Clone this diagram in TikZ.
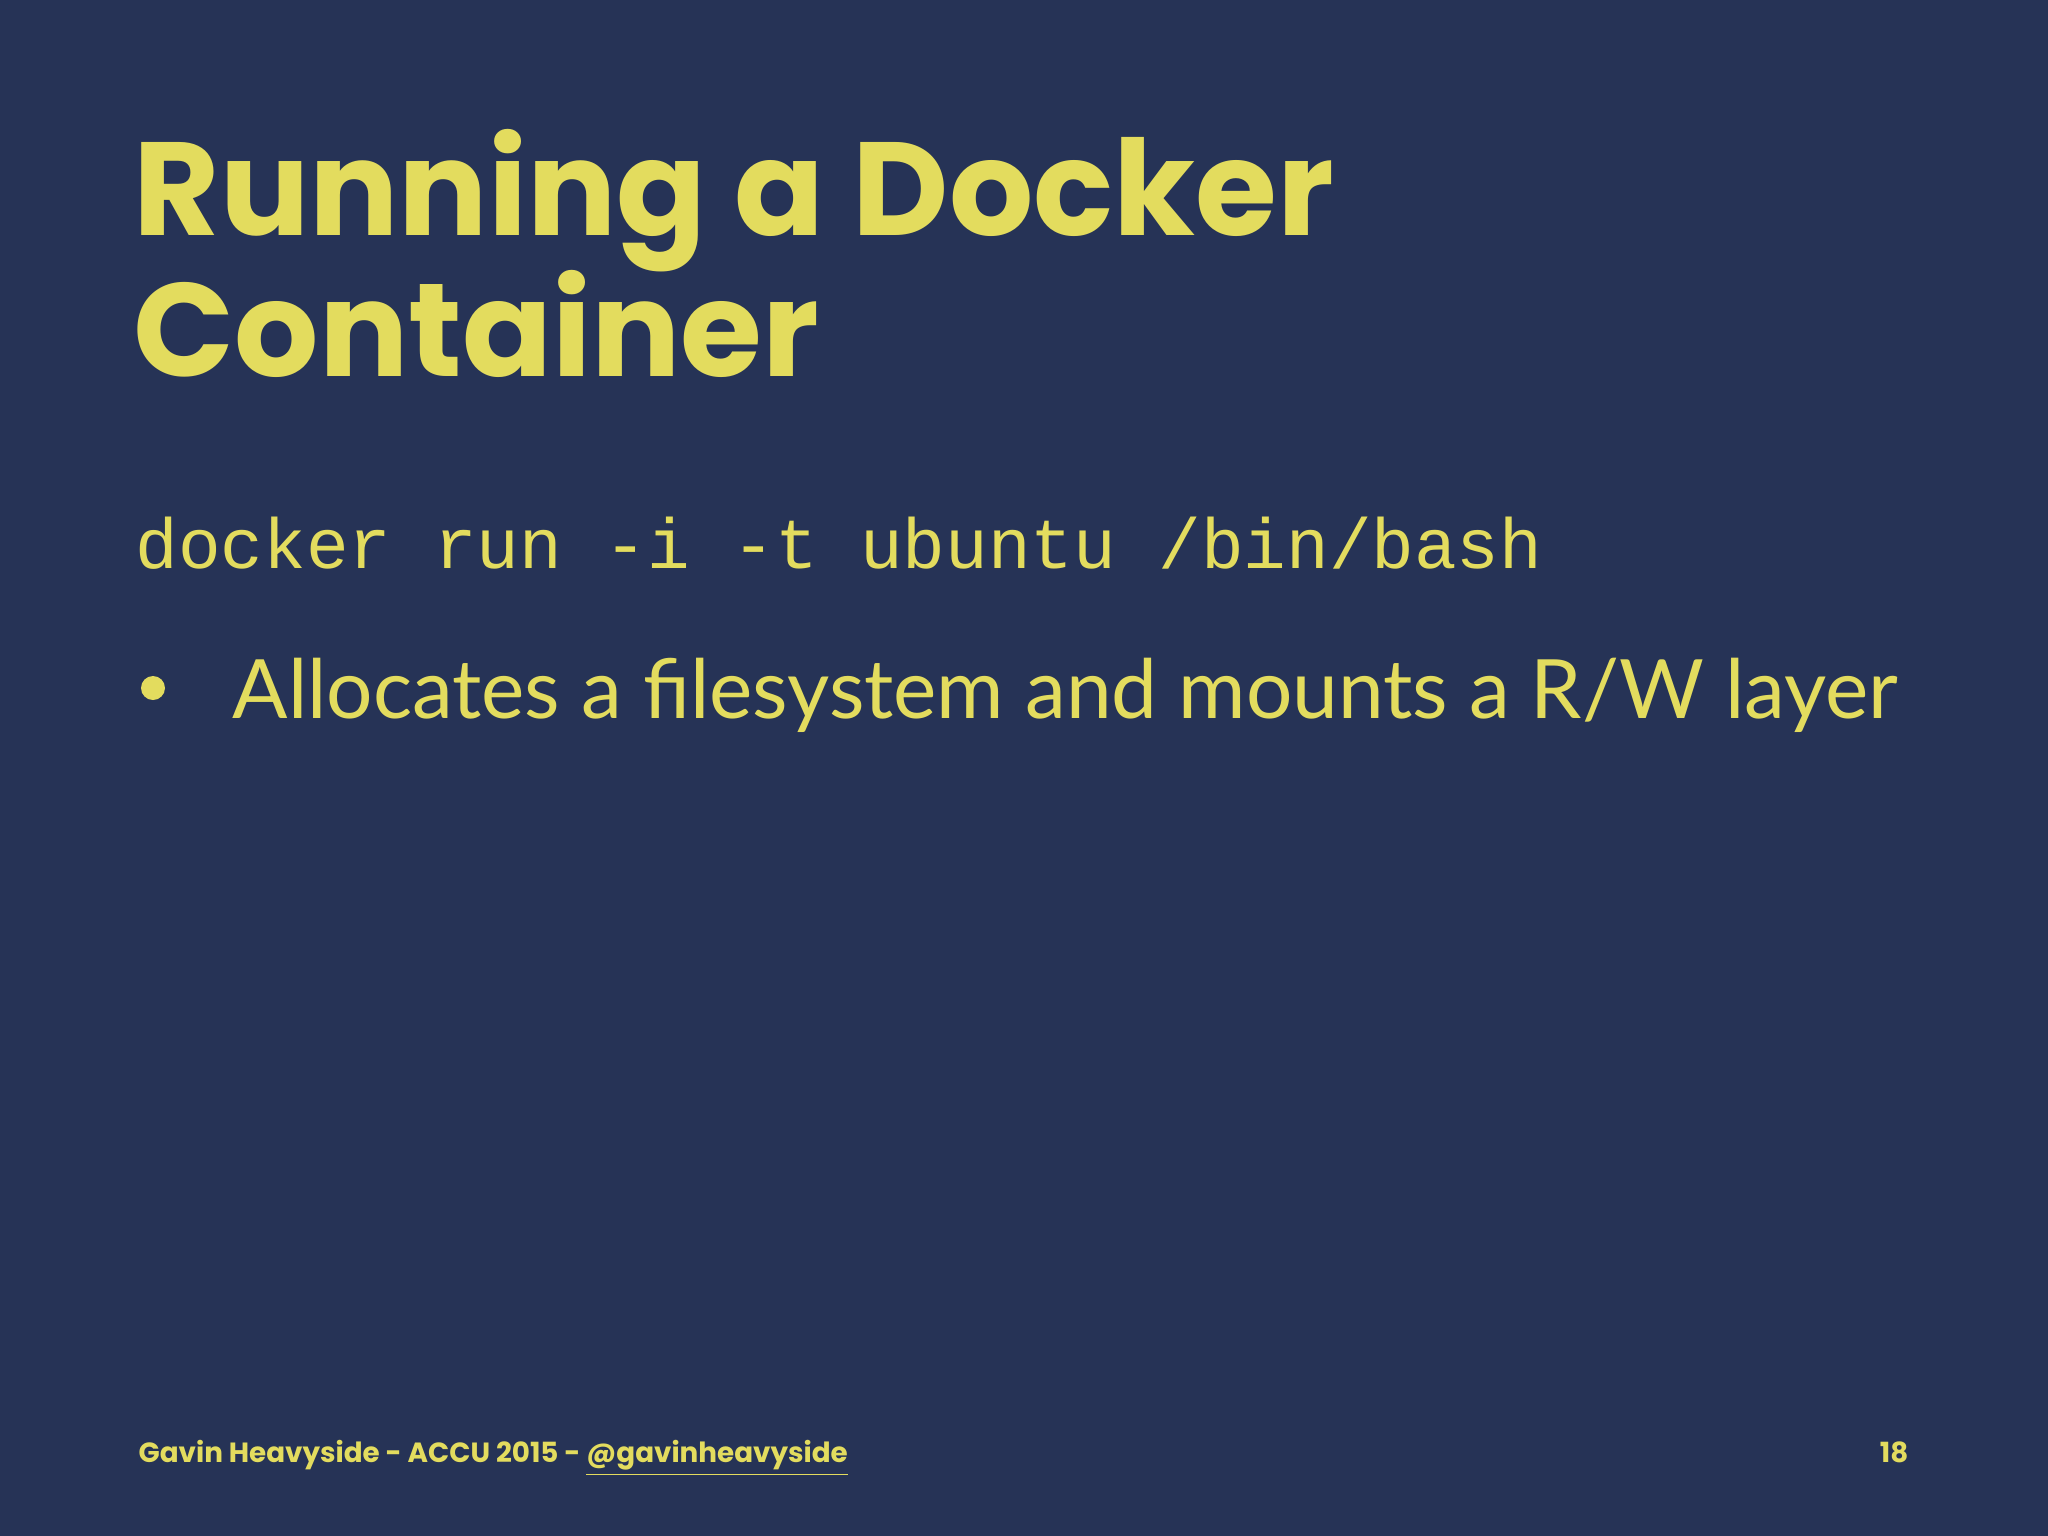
\documentclass[tikz,border=0pt]{standalone}
\usepackage{fontspec}
\newfontfamily\titlefont{Poppins}[UprightFont=* Bold]
\newfontfamily\bodyfont{Lato}
\newfontfamily\codefont{Liberation Mono}
\newfontfamily\footfont{Poppins}[UprightFont=* Bold]
\definecolor{bg}{HTML}{263356}
\definecolor{yl}{HTML}{E3DC5E}
\tikzset{txt/.style={anchor=base west,inner sep=0pt,text=yl}}
\begin{document}
\begin{tikzpicture}[x=0.01cm,y=-0.01cm]
\fill[bg] (0,0) rectangle (2048,1536);
\node[txt,font=\titlefont\fontsize{37.7}{40}\selectfont] (t1) at (133,235) {Running a Docker};
\node[txt,font=\titlefont\fontsize{37.7}{40}\selectfont] (t2) at (133,376) {Container};
\node[txt,font=\codefont\fontsize{20.2}{22}\selectfont] (code) at (135,568) {docker run -i -t ubuntu /bin/bash};
\fill[yl] (153,688) circle (12) coordinate (dot);
\node[txt,font=\bodyfont\fontsize{23.3}{27}\selectfont] (b1) at (232,718) {Allocates a filesystem and mounts a R/W layer};
\node[txt,font=\footfont\fontsize{7.9}{10}\selectfont] (f1) at (138,1462) {Gavin Heavyside - ACCU 2015 - \underline{@gavinheavyside}};
\node[txt,anchor=base east,font=\footfont\fontsize{7.9}{10}\selectfont] (pg) at (1909,1462) {18};
\end{tikzpicture}
\end{document}
